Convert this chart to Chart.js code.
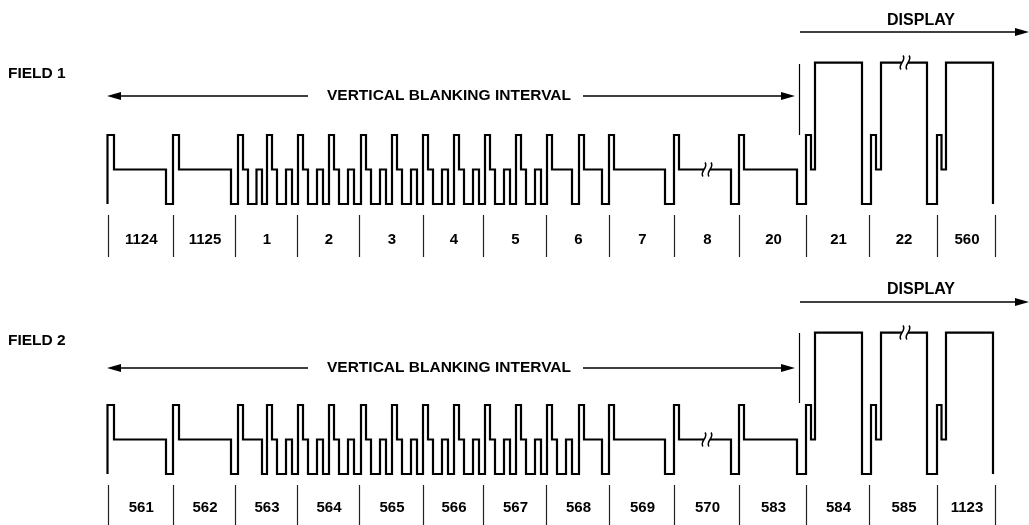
<!DOCTYPE html>
<html><head><meta charset="utf-8">
<script src="https://cdn.jsdelivr.net/npm/chart.js@4/dist/chart.umd.min.js"></script>
<style>html,body{margin:0;padding:0;background:#fff}#wrap{width:1029px;height:525px;position:relative}</style>
</head><body><div id="wrap"><canvas id="c" width="1029" height="525"></canvas></div>
<script>
// Signal levels (schematic): sync tip, blanking, positive sync, display
const LOW = -1, BLANK = 0, HIGH = 1, DISP = 3.1;

// Line boundaries (time axis) and line numbers
const lineBounds = [107.5,173,235,297,359,423,483,546,609,674,739,806,869,937,995];
const field1Labels = ['1124','1125','1','2','3','4','5','6','7','8','20','21','22','560'];
const field2Labels = ['561','562','563','564','565','566','567','568','569','570','583','584','585','1123'];

// Field 1 waveform: edge times and the level that starts at each edge
const field1T = [107.5,107.5,114,166,173,179,231,
  238,243,248,256.5,262,
  267,272,277,286,292,
  298,303,308,317,323,
  329,334,339,348,354,
  361,366,371,380,386,
  392,397,402,411,417,
  423,428,433,442,448,
  454,459,464,473,479,
  485,490,495,504,510,
  516,521,526,535,541,
  547,552,572,579,584,602,
  609,614,665,674,679,731,739,744,797,806,811,815,862,871,876,881,927,937,941.5,946,993];
const field1V = [LOW,HIGH,BLANK,LOW,HIGH,BLANK,LOW,
  HIGH,BLANK,LOW,BLANK,LOW,
  HIGH,BLANK,LOW,BLANK,LOW,
  HIGH,BLANK,LOW,BLANK,LOW,
  HIGH,BLANK,LOW,BLANK,LOW,
  HIGH,BLANK,LOW,BLANK,LOW,
  HIGH,BLANK,LOW,BLANK,LOW,
  HIGH,BLANK,LOW,BLANK,LOW,
  HIGH,BLANK,LOW,BLANK,LOW,
  HIGH,BLANK,LOW,BLANK,LOW,
  HIGH,BLANK,LOW,BLANK,LOW,
  HIGH,BLANK,LOW,HIGH,BLANK,LOW,
  HIGH,BLANK,LOW,HIGH,BLANK,LOW,HIGH,BLANK,LOW,HIGH,BLANK,DISP,LOW,HIGH,BLANK,DISP,LOW,HIGH,BLANK,DISP,LOW];

// Field 2 waveform
const field2T = [107.5,107.5,114,166,173,179,231,
  238,243,262,
  267,272,277,286,292,
  298,303,308,317,323,
  329,334,339,348,354,
  361,366,371,380,386,
  392,397,402,411,417,
  423,428,433,442,448,
  454,459,464,473,479,
  485,490,495,504,510,
  516,521,526,535,541,
  547,552,557,566,572,
  579,584,602,
  609,614,665,674,679,731,739,744,797,806,811,815,862,871,876,881,927,937,941.5,946,993];
const field2V = [LOW,HIGH,BLANK,LOW,HIGH,BLANK,LOW,
  HIGH,BLANK,LOW,
  HIGH,BLANK,LOW,BLANK,LOW,
  HIGH,BLANK,LOW,BLANK,LOW,
  HIGH,BLANK,LOW,BLANK,LOW,
  HIGH,BLANK,LOW,BLANK,LOW,
  HIGH,BLANK,LOW,BLANK,LOW,
  HIGH,BLANK,LOW,BLANK,LOW,
  HIGH,BLANK,LOW,BLANK,LOW,
  HIGH,BLANK,LOW,BLANK,LOW,
  HIGH,BLANK,LOW,BLANK,LOW,
  HIGH,BLANK,LOW,BLANK,LOW,
  HIGH,BLANK,LOW,
  HIGH,BLANK,LOW,HIGH,BLANK,LOW,HIGH,BLANK,LOW,HIGH,BLANK,DISP,LOW,HIGH,BLANK,DISP,LOW,HIGH,BLANK,DISP,LOW];

// Time-axis breaks (≈) and the level they sit on
const breakT = [707, 905];
const breakV = [BLANK, DISP];

// Interval markers on the time axis
const vbiStart = 107, vbiEnd = 795, displayStart = 800, displayEnd = 1029, boundaryT = 799;

const pts = (T, V) => T.map((t, i) => ({x: t, y: V[i]}));

// layout for each field (pixels)
const FIELDS = [
  {axis:'y1', labels: field1Labels, name:'FIELD 1', nameY:74, vbiY:96, dispY:32, dispTextY:21, tickTop:215, tickBot:257, labelY:240, bTop:64, bBot:135},
  {axis:'y2', labels: field2Labels, name:'FIELD 2', nameY:341, vbiY:368, dispY:302, dispTextY:290, tickTop:485, tickBot:525, labelY:508, bTop:333, bBot:403}
];
const FONT = '"Liberation Sans", Arial, sans-serif';

function arrowHead(ctx, x, y, dir) {
  ctx.beginPath();
  ctx.moveTo(x, y);
  ctx.lineTo(x - dir * 14, y - 4);
  ctx.lineTo(x - dir * 14, y + 4);
  ctx.closePath();
  ctx.fill();
}

const annot = {
  id: 'annot',
  afterDatasetsDraw(chart) {
    const ctx = chart.ctx, xs = chart.scales.x;
    ctx.save();
    ctx.fillStyle = '#000';
    ctx.strokeStyle = '#000';
    FIELDS.forEach(f => {
      const ys = chart.scales[f.axis];
      // breaks
      breakT.forEach((bt, i) => {
        const px = xs.getPixelForValue(bt), py = ys.getPixelForValue(breakV[i]);
        ctx.fillStyle = '#fff';
        ctx.fillRect(px - 3, py - 3, 6, 6);
        ctx.fillStyle = '#000';
        ctx.lineWidth = 1.5;
        [-3, 3].forEach(dx => {
          ctx.beginPath();
          ctx.moveTo(px + dx - 1, py + 7);
          ctx.bezierCurveTo(px + dx - 5, py + 2, px + dx + 5, py - 2, px + dx + 1, py - 7);
          ctx.stroke();
        });
      });
      // line boundary ticks and numbers
      ctx.strokeStyle = '#222';
      ctx.lineWidth = 1.2;
      lineBounds.forEach(b => {
        const px = Math.round(xs.getPixelForValue(b)) + 0.5;
        ctx.beginPath(); ctx.moveTo(px, f.tickTop); ctx.lineTo(px, f.tickBot); ctx.stroke();
      });
      ctx.font = 'bold 15px ' + FONT;
      ctx.textAlign = 'center'; ctx.textBaseline = 'middle';
      f.labels.forEach((lab, i) => {
        const cx = (xs.getPixelForValue(lineBounds[i]) + xs.getPixelForValue(lineBounds[i + 1])) / 2;
        ctx.fillText(lab, cx + 1, f.labelY);
      });
      // field name
      ctx.textAlign = 'left';
      ctx.font = 'bold 15.5px ' + FONT;
      ctx.fillText(f.name, 8, f.nameY);
      // VBI arrow
      ctx.strokeStyle = '#000';
      ctx.lineWidth = 1.3;
      const x0 = xs.getPixelForValue(vbiStart), x1 = xs.getPixelForValue(vbiEnd);
      const txt = 'VERTICAL BLANKING INTERVAL';
      const tx = 327, tw = ctx.measureText(txt).width;
      ctx.fillText(txt, tx, f.vbiY);
      ctx.beginPath();
      ctx.moveTo(x0 + 10, f.vbiY); ctx.lineTo(308, f.vbiY);
      ctx.moveTo(tx + tw + 12, f.vbiY); ctx.lineTo(x1 - 10, f.vbiY);
      ctx.stroke();
      arrowHead(ctx, x0, f.vbiY, -1);
      arrowHead(ctx, x1, f.vbiY, 1);
      // display arrow
      const d0 = xs.getPixelForValue(displayStart), d1 = xs.getPixelForValue(displayEnd);
      ctx.beginPath(); ctx.moveTo(d0, f.dispY); ctx.lineTo(d1 - 10, f.dispY); ctx.stroke();
      arrowHead(ctx, d1, f.dispY, 1);
      ctx.textAlign = 'center';
      ctx.font = 'bold 16px ' + FONT;
      ctx.fillText('DISPLAY', 921, f.dispTextY);
      // boundary line between blanking and display
      const bx = Math.round(xs.getPixelForValue(boundaryT)) + 0.5;
      ctx.lineWidth = 1.2;
      ctx.beginPath(); ctx.moveTo(bx, f.bTop); ctx.lineTo(bx, f.bBot); ctx.stroke();
    });
    ctx.restore();
  }
};

const UNIT = 34.5; // px per level unit
const H = 525;
function yRange(blankPx) { const max = blankPx / UNIT; return {min: max - H / UNIT, max}; }
const r1 = yRange(169.5), r2 = yRange(439.5);

const ds = (T, V, axis) => ({data: pts(T, V), yAxisID: axis, stepped: true, borderColor: '#000', borderWidth: 2.2,
  pointRadius: 0, fill: false, borderJoinStyle: 'miter', borderCapStyle: 'butt', tension: 0, clip: false});

new Chart(document.getElementById('c'), {
  type: 'line',
  data: {datasets: [ds(field1T, field1V, 'y1'), ds(field2T, field2V, 'y2')]},
  options: {
    responsive: false, animation: false, events: [],
    layout: {padding: 0},
    plugins: {legend: {display: false}, tooltip: {enabled: false}},
    scales: {
      x: {type: 'linear', min: 0, max: 1029, display: false},
      y1: {type: 'linear', min: r1.min, max: r1.max, display: false},
      y2: {type: 'linear', min: r2.min, max: r2.max, display: false}
    }
  },
  plugins: [annot]
});
</script></body></html>
